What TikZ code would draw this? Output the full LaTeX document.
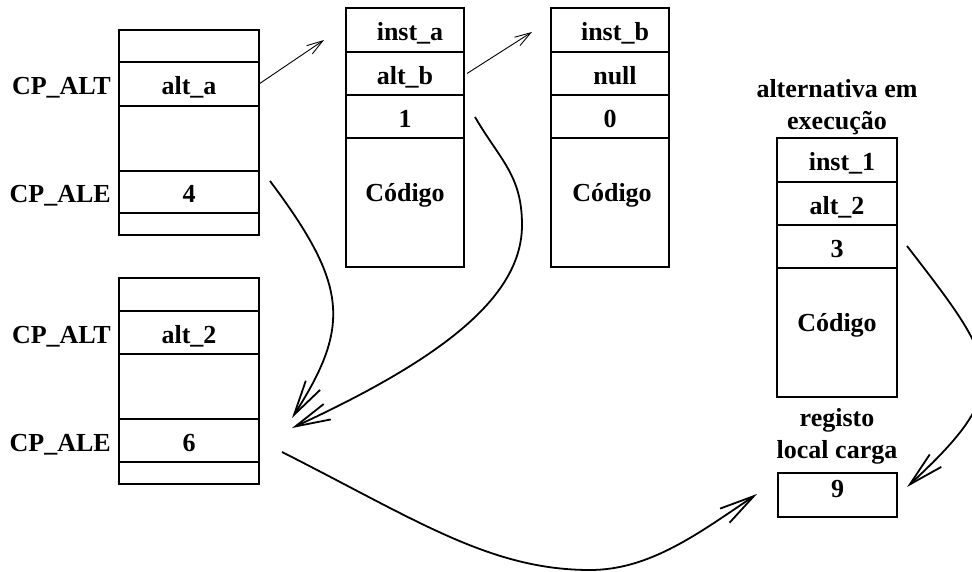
\documentclass[tikz,border=0pt]{standalone}
\usepackage{fontspec}
\setmainfont{Liberation Serif}
\usetikzlibrary{arrows.meta}

\begin{document}
\begin{tikzpicture}[x=1pt,y=-1pt,
  txtfont/.style={font=\bfseries\fontsize{26}{32}\selectfont},
  cell/.style={draw, line width=1.2pt, inner sep=0pt, outer sep=0pt, anchor=north,
    txtfont, text height=22pt, text depth=0pt},
  codecell/.style={cell, text depth=24pt},
  cplabel/.style={txtfont, inner sep=0pt, anchor=base east},
  header/.style={txtfont, inner sep=0pt, align=center, anchor=south},
  bigarrow/.style={line width=1.8pt, -{Straight Barb[length=35pt,width=17pt]}},
  smallarrow/.style={line width=0.9pt, -{Straight Barb[length=16pt,width=10pt]}}]

\useasboundingbox (0,0) rectangle (972,572);

% upper choice point frame
\begin{scope}[every node/.append style={minimum width=140pt}]
  \node[cell, minimum height=32pt] (p1) at (189,30) {};
  \node[cell, minimum height=44pt] (p2) at (p1.south) {alt\_a};
  \node[cell, minimum height=65pt] (p3) at (p2.south) {};
  \node[cell, minimum height=42pt] (p4) at (p3.south) {4};
  \node[cell, minimum height=22pt] (p5) at (p4.south) {};
\end{scope}
\node[cplabel] (lp2) at ([xshift=-8pt]p2.base west) {CP\_ALT};
\node[cplabel] (lp4) at ([xshift=-8pt]p4.base west) {CP\_ALE};

% lower choice point frame
\begin{scope}[every node/.append style={minimum width=140pt}]
  \node[cell, minimum height=33pt] (q1) at (189,278) {};
  \node[cell, minimum height=43pt] (q2) at (q1.south) {alt\_2};
  \node[cell, minimum height=65pt] (q3) at (q2.south) {};
  \node[cell, minimum height=43pt] (q4) at (q3.south) {6};
  \node[cell, minimum height=21pt] (q5) at (q4.south) {};
\end{scope}
\node[cplabel] (lq2) at ([xshift=-8pt]q2.base west) {CP\_ALT};
\node[cplabel] (lq4) at ([xshift=-8pt]q4.base west) {CP\_ALE};

% alternative a
\begin{scope}[every node/.append style={minimum width=118pt}]
  \node[cell, minimum height=44pt] (a1) at (405,8) {\hspace*{10pt}inst\_a};
  \node[cell, minimum height=43pt] (a2) at (a1.south) {alt\_b};
  \node[cell, minimum height=43pt] (a3) at (a2.south) {1};
  \node[codecell, minimum height=129pt] (a4) at (a3.south) {Código};
\end{scope}

% alternative b
\begin{scope}[every node/.append style={minimum width=118pt}]
  \node[cell, minimum height=44pt] (b1) at (610,8) {\hspace*{10pt}inst\_b};
  \node[cell, minimum height=43pt] (b2) at (b1.south) {\hspace*{10pt}null};
  \node[cell, minimum height=43pt] (b3) at (b2.south) {0};
  \node[codecell, minimum height=129pt] (b4) at (b3.south) {\hspace*{4pt}Código};
\end{scope}

% running alternative
\node[header] (hr) at (837,135) {alternativa em\\execução};
\begin{scope}[every node/.append style={minimum width=120pt}]
  \node[cell, minimum height=44pt] (r1) at (837,138) {\hspace*{10pt}inst\_1};
  \node[cell, minimum height=43pt] (r2) at (r1.south) {alt\_2};
  \node[cell, minimum height=43pt] (r3) at (r2.south) {3};
  \node[codecell, minimum height=129pt] (r4) at (r3.south) {Código};
\end{scope}

% load register
\node[header] (hl) at (837,464) {registo\\local carga};
\node[cell, minimum width=119pt, minimum height=44pt, text depth=18pt] (reg) at (837.5,473) {9};

% pointers between alternatives
\coordinate (ta) at (324,40);
\coordinate (tb) at (532,32);
\draw[smallarrow] (p2.east) -- (ta);
\draw[smallarrow] ([xshift=3pt]a2.east) -- (tb);

% curved connectors
\coordinate (s1) at (270,181);
\coordinate (e1) at (292,418);
\coordinate (s2) at (475,117);
\coordinate (e2) at (292,428);
\coordinate (s3) at (282,452);
\coordinate (e3) at (757,494);
\coordinate (s4) at (907,246);
\coordinate (e4) at (907,487);

\draw[bigarrow] (s1) .. controls (348,285) and (351,326) .. (e1);
\draw[bigarrow] (s2) .. controls (500,160) and (522,175) .. (522,225)
                     .. controls (522,295) and (446.7,356.6) .. (e2);
\draw[bigarrow] (s3) .. controls (415.5,519.5) and (490,570) .. (590,570)
                     .. controls (650,570) and (699,533) .. (e3);
\draw[bigarrow] (s4) .. controls (998.5,364.5) and (1016.5,386) .. (e4);

\end{tikzpicture}
\end{document}
